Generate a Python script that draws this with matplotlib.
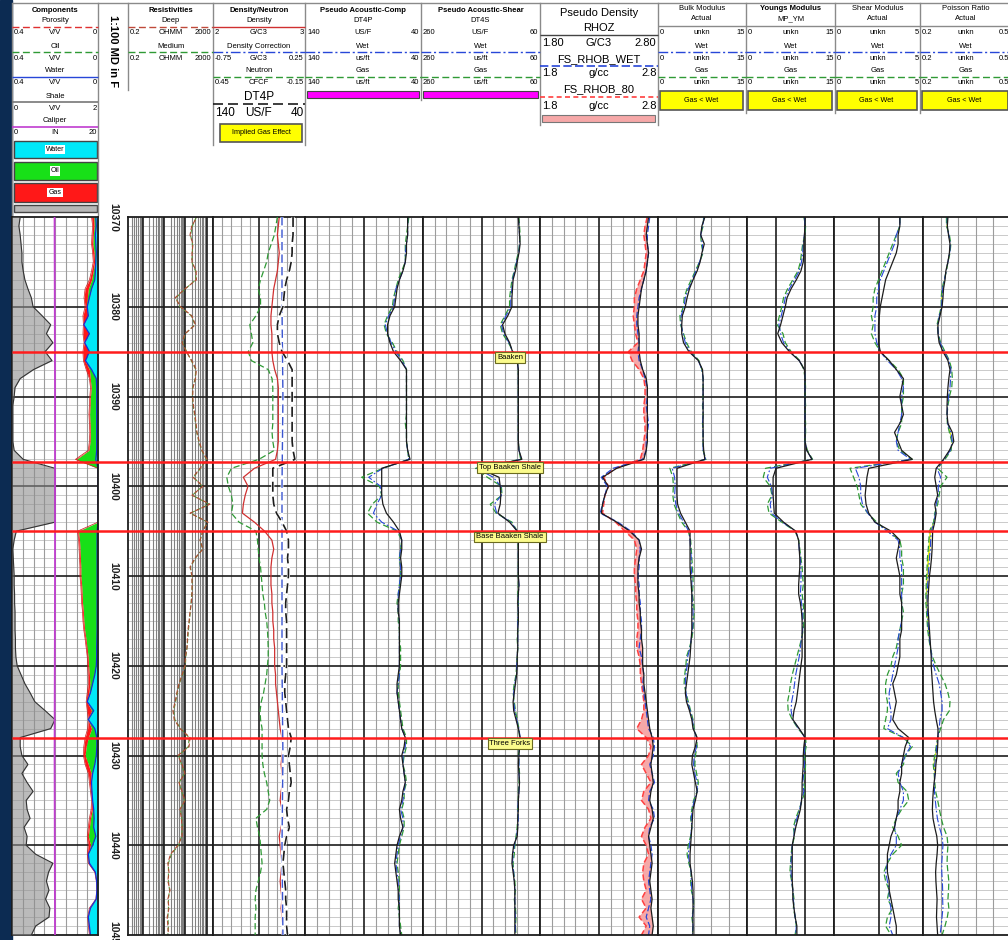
import numpy as np
import matplotlib
matplotlib.use("Agg")
import matplotlib.pyplot as plt
from matplotlib.patches import Rectangle

plt.rcParams["font.family"] = ["Liberation Sans", "DejaVu Sans"]

# ---------------- data (1 ft samples) ----------------
depth = np.arange(10370, 10451)
depth_labels = [10370, 10380, 10390, 10400, 10410, 10420, 10430, 10440, 10450]

tops_name = ["Baaken", "Top Baaken Shale", "Base Baaken Shale", "Three Forks"]
tops_depth = [10385.0, 10397.3, 10405.0, 10428.0]

# components (V/V)
shale = [0.19, 0.16, 0.19, 0.21, 0.23, 0.23, 0.26, 0.30, 0.37, 0.45,
         0.49, 0.70, 0.90, 0.80, 0.95, 0.77, 0.93, 0.50, 0.19, 0.07,
         0.05, 0.02, 0.02, 0.02, 0.02, 0.02, 0.05, 0.26, 1.00, 1.00,
         1.00, 1.00, 1.00, 1.00, 1.00, 0.10, 0.05, 0.02, 0.03, 0.04,
         0.05, 0.05, 0.06, 0.06, 0.07, 0.07, 0.07, 0.08, 0.08, 0.09,
         0.12, 0.21, 0.30, 0.42, 0.53, 0.77, 1.00, 0.90, 0.19, 0.19,
         0.23, 0.37, 0.23, 0.35, 0.49, 0.33, 0.35, 0.42, 0.28, 0.35,
         0.33, 0.55, 0.95, 0.85, 0.80, 0.86, 0.78, 0.88, 0.86, 0.55, 0.45]
phi = [.030, .025, .028, .030, .025, .022, .030, .040, .060, .065,
       .060, .070, .068, .070, .065, .070, .068, .055, .040, .035,
       .038, .040, .042, .040, .038, .040, .045, .105, .000, .000,
       .000, .000, .000, .000, .000, .095, .090, .088, .086, .084,
       .084, .080, .078, .076, .072, .070, .066, .060, .055, .050,
       .048, .046, .045, .050, .055, .050, .045, .048, .060, .066,
       .068, .060, .045, .040, .035, .030, .032, .040, .045, .050,
       .045, .050, .045, .015, .008, .006, .010, .040, .048, .045, .040]
bvw = [.010, .008, .012, .010, .008, .010, .012, .015, .030, .040,
       .050, .045, .066, .040, .062, .040, .058, .030, .008, .006,
       .006, .006, .006, .006, .006, .006, .006, .010, .000, .000,
       .000, .000, .000, .000, .000, .004, .004, .004, .004, .004,
       .004, .004, .004, .004, .004, .004, .004, .005, .006, .006,
       .008, .015, .025, .035, .050, .020, .045, .015, .005, .005,
       .008, .015, .025, .030, .028, .025, .020, .018, .020, .010,
       .025, .045, .040, .012, .006, .005, .008, .035, .045, .040, .035]
oil = [.020, .018, .022, .024, .018, .016, .022, .030, .045, .050,
       .055, .047, .067, .042, .063, .042, .060, .040, .036, .032,
       .035, .037, .039, .037, .035, .037, .042, .100, .000, .000,
       .000, .000, .000, .000, .000, .091, .086, .084, .082, .080,
       .080, .076, .074, .072, .068, .066, .062, .056, .051, .046,
       .044, .040, .038, .042, .052, .030, .046, .030, .045, .055,
       .060, .045, .032, .034, .030, .027, .026, .035, .040, .045,
       .035, .046, .042, .013, .007, .005, .009, .037, .046, .042, .037]
cal_depth = [10370, 10390, 10410, 10430, 10450]
caliper = [9.9, 10.0, 10.0, 9.9, 10.0]

# resistivity (ohmm)
res_deep = [353, 200, 166, 229, 206, 206, 320, 330, 96, 33,
            60, 200, 300, 96, 70, 110, 200, 330, 300, 230,
            220, 240, 280, 320, 353, 450, 607, 1044, 489, 229,
            676, 206, 1445, 166, 1160, 676, 489, 676, 284, 166,
            206, 206, 206, 190, 166, 150, 133, 125, 119, 100,
            96, 70, 50, 40, 33, 26, 30, 56, 166, 150,
            45, 70, 96, 50, 70, 96, 56, 65, 70, 70,
            45, 20, 15, 17, 15, 19, 15, 17, 14, 15, 16]
res_med = [330, 215, 175, 215, 215, 200, 300, 310, 100, 36,
           55, 190, 280, 100, 75, 115, 190, 310, 290, 220,
           215, 230, 270, 300, 340, 430, 580, 980, 520, 240,
           640, 215, 1300, 175, 1100, 650, 500, 640, 300, 175,
           200, 215, 200, 185, 170, 155, 140, 130, 120, 105,
           100, 75, 52, 42, 35, 28, 32, 60, 150, 140,
           48, 66, 90, 52, 66, 92, 58, 68, 72, 66,
           48, 22, 16, 16, 16, 18, 16, 16, 15, 16, 15]

# density / neutron
rhoz = [2.72, 2.71, 2.70, 2.71, 2.72, 2.71, 2.70, 2.68, 2.66, 2.65,
        2.64, 2.63, 2.63, 2.64, 2.64, 2.64, 2.65, 2.67, 2.70, 2.71,
        2.71, 2.71, 2.71, 2.71, 2.71, 2.71, 2.70, 2.68, 2.45, 2.33,
        2.38, 2.35, 2.33, 2.32, 2.45, 2.56, 2.64, 2.66, 2.64, 2.63,
        2.63, 2.63, 2.64, 2.64, 2.65, 2.65, 2.66, 2.66, 2.67, 2.67,
        2.67, 2.68, 2.68, 2.69, 2.70, 2.71, 2.72, 2.73, 2.75, 2.76,
        2.75, 2.74, 2.75, 2.76, 2.74, 2.73, 2.75, 2.76, 2.74, 2.72,
        2.73, 2.74, 2.75, 2.74, 2.73, 2.74, 2.75, 2.74, 2.75, 2.76, 2.75]
nphi = [0.03, 0.04, 0.05, 0.07, 0.09, 0.10, 0.12, 0.14, 0.155, 0.14,
        0.14, 0.17, 0.21, 0.20, 0.19, 0.22, 0.20, 0.09, 0.065, 0.06,
        0.06, 0.06, 0.06, 0.06, 0.065, 0.06, 0.05, 0.15, 0.33, 0.36,
        0.35, 0.33, 0.32, 0.33, 0.28, 0.17, 0.16, 0.155, 0.15, 0.14,
        0.135, 0.13, 0.125, 0.115, 0.11, 0.10, 0.095, 0.092, 0.09, 0.09,
        0.095, 0.10, 0.11, 0.12, 0.135, 0.143, 0.14, 0.13, 0.13, 0.13,
        0.13, 0.125, 0.115, 0.10, 0.09, 0.08, 0.10, 0.17, 0.16, 0.145,
        0.14, 0.135, 0.13, 0.14, 0.155, 0.17, 0.175, 0.17, 0.175, 0.175, 0.175]
drho_depth = [10370, 10380, 10390, 10400, 10410, 10420, 10430, 10440, 10450]
drho = [0.00, 0.00, 0.01, 0.00, 0.00, 0.00, 0.01, 0.00, 0.01]

# pseudo acoustic (us/ft)
dt4p = [53, 53, 53, 54, 54, 55, 57, 60, 62, 63,
        64, 68, 70, 70, 68, 65, 59, 54, 54, 54,
        54, 54, 54, 54, 54, 54, 53, 51, 75, 75,
        75, 75, 74, 71, 65, 60, 58, 58, 59, 58,
        58, 59, 60, 61, 61, 60, 60, 60, 60, 60,
        60, 61, 62, 62, 61, 60, 59, 58, 55, 56,
        58, 57, 56, 55, 57, 58, 60, 59, 57, 60,
        62, 63, 64, 63, 62, 61, 61, 60, 60, 60, 59]
dt4p_wet = [53, 53, 53, 54, 55, 55, 57, 60, 63, 64,
            65, 69, 72, 70, 67, 63, 58, 54, 54, 54,
            54, 54, 54, 54, 54, 54, 53, 52, 74, 86,
            76, 75, 79, 82, 75, 61, 58, 59, 60, 59,
            59, 60, 61, 61, 61, 60, 60, 60, 60, 60,
            60, 60, 61, 62, 61, 60, 59, 58, 55, 55,
            57, 57, 56, 55, 56, 57, 59, 57, 57, 59,
            61, 62, 63, 62, 61, 61, 60, 60, 60, 60, 59]
dt4p_gas = [52, 53, 54, 55, 55, 55, 58, 61, 63, 65,
            66, 70, 73, 71, 66, 62, 57, 54, 54, 54,
            54, 54, 54, 55, 54, 54, 53, 52, 74, 92,
            77, 75, 83, 87, 79, 62, 58, 59, 60, 59,
            59, 60, 61, 62, 61, 61, 60, 60, 59, 59,
            59, 60, 61, 61, 60, 59, 58, 57, 54, 54,
            56, 57, 55, 54, 56, 56, 58, 56, 56, 58,
            60, 61, 62, 61, 60, 60, 60, 61, 60, 59, 58]
dt4s = [97, 96, 95, 94, 96, 99, 102, 106, 107, 108,
        108, 115, 124, 120, 112, 107, 99, 97, 97, 97,
        97, 97, 97, 97, 97, 97, 96, 91, 165, 130,
        128, 127, 128, 132, 112, 99, 97, 97, 97, 97,
        97, 96, 97, 98, 97, 97, 98, 98, 98, 99,
        99, 100, 102, 104, 106, 105, 101, 97, 94, 95,
        96, 97, 96, 95, 96, 97, 97, 98, 98, 99,
        105, 107, 108, 106, 104, 103, 103, 103, 103, 103, 103]
dt4s_wet = [97, 96, 95, 95, 96, 100, 103, 107, 108, 110,
            110, 118, 126, 122, 113, 107, 99, 97, 97, 97,
            97, 97, 97, 97, 97, 97, 96, 92, 168, 140,
            127, 126, 138, 134, 110, 99, 97, 97, 97, 97,
            97, 96, 97, 97, 97, 98, 98, 98, 98, 99,
            100, 100, 103, 105, 105, 103, 100, 96, 94, 95,
            96, 96, 96, 95, 96, 97, 98, 97, 98, 100,
            104, 106, 107, 105, 104, 103, 103, 103, 102, 102, 102]
dt4s_gas = [96, 95, 94, 95, 97, 101, 104, 108, 110, 112,
            112, 120, 128, 124, 114, 106, 99, 97, 97, 97,
            97, 97, 97, 97, 97, 97, 96, 93, 170, 150,
            126, 125, 145, 135, 108, 99, 98, 97, 97, 97,
            97, 97, 98, 97, 97, 98, 98, 99, 98, 99,
            100, 101, 104, 106, 104, 102, 99, 96, 95, 95,
            97, 96, 95, 96, 97, 97, 98, 98, 99, 101,
            103, 104, 106, 105, 103, 102, 104, 102, 101, 102, 101]

# pseudo density (g/cc)
rhob_wet = [2.73, 2.72, 2.71, 2.71, 2.72, 2.71, 2.70, 2.68, 2.66, 2.64,
            2.63, 2.62, 2.62, 2.63, 2.64, 2.63, 2.64, 2.67, 2.69, 2.71,
            2.71, 2.70, 2.71, 2.72, 2.71, 2.70, 2.70, 2.67, 2.42, 2.32,
            2.37, 2.35, 2.33, 2.31, 2.46, 2.57, 2.64, 2.65, 2.64, 2.64,
            2.63, 2.64, 2.64, 2.65, 2.65, 2.66, 2.66, 2.65, 2.64, 2.66,
            2.67, 2.68, 2.67, 2.68, 2.69, 2.70, 2.71, 2.72, 2.76, 2.77,
            2.76, 2.73, 2.75, 2.77, 2.73, 2.72, 2.76, 2.77, 2.73, 2.72,
            2.74, 2.75, 2.74, 2.73, 2.72, 2.73, 2.74, 2.72, 2.70, 2.73, 2.72]
rhob_80 = [2.71, 2.69, 2.68, 2.69, 2.70, 2.69, 2.68, 2.65, 2.62, 2.60,
           2.60, 2.59, 2.60, 2.61, 2.63, 2.55, 2.58, 2.64, 2.68, 2.69,
           2.69, 2.68, 2.68, 2.69, 2.69, 2.68, 2.67, 2.65, 2.44, 2.34,
           2.38, 2.35, 2.34, 2.33, 2.44, 2.52, 2.60, 2.62, 2.61, 2.60,
           2.60, 2.61, 2.61, 2.62, 2.62, 2.63, 2.63, 2.62, 2.62, 2.64,
           2.65, 2.65, 2.66, 2.67, 2.68, 2.68, 2.66, 2.62, 2.70, 2.74,
           2.72, 2.66, 2.70, 2.74, 2.68, 2.66, 2.72, 2.74, 2.69, 2.66,
           2.70, 2.72, 2.68, 2.67, 2.68, 2.70, 2.66, 2.70, 2.64, 2.70, 2.66]

# moduli
bulk_act = [7.9, 7.4, 7.2, 7.8, 7.4, 7.1, 6.6, 5.9, 5.3, 4.9,
            4.6, 4.1, 4.0, 4.0, 4.3, 5.2, 6.8, 7.5, 7.6, 7.6,
            7.6, 7.6, 7.6, 7.6, 7.6, 7.6, 7.7, 7.9, 3.2, 3.2,
            3.2, 3.2, 3.3, 3.8, 4.6, 5.4, 5.4, 5.4, 5.4, 5.4,
            5.5, 5.6, 5.7, 5.7, 5.7, 5.7, 5.7, 5.6, 5.5, 5.4,
            5.2, 5.0, 4.8, 4.6, 4.8, 5.3, 5.7, 5.9, 6.6, 6.3,
            5.8, 5.7, 6.0, 6.3, 6.6, 6.3, 5.9, 5.8, 5.7, 5.6,
            5.5, 5.4, 5.4, 5.6, 5.8, 5.9, 5.9, 5.9, 5.9, 5.9, 5.9]
bulk_wet = [7.8, 7.5, 7.2, 7.5, 7.5, 7.0, 6.4, 5.8, 5.1, 4.6,
            4.4, 3.9, 3.9, 4.2, 4.6, 5.4, 6.8, 7.4, 7.6, 7.6,
            7.6, 7.6, 7.6, 7.5, 7.6, 7.6, 7.6, 8.0, 2.4, 2.8,
            2.9, 2.8, 3.0, 3.5, 4.3, 5.2, 5.4, 5.5, 5.6, 5.6,
            5.7, 5.7, 5.7, 5.8, 5.9, 5.9, 5.8, 5.6, 5.4, 5.0,
            4.9, 4.7, 4.6, 4.7, 5.0, 5.4, 5.8, 6.0, 6.5, 6.5,
            6.1, 6.0, 6.2, 6.6, 6.6, 6.1, 5.8, 5.6, 5.7, 5.5,
            5.3, 5.1, 5.3, 5.6, 5.6, 5.7, 5.9, 6.0, 5.8, 5.9, 5.8]
bulk_gas = [7.7, 7.6, 7.2, 7.3, 7.6, 7.0, 6.3, 5.6, 4.9, 4.4,
            4.3, 3.7, 3.8, 4.3, 4.8, 5.6, 6.9, 7.4, 7.6, 7.6,
            7.6, 7.5, 7.6, 7.5, 7.6, 7.6, 7.6, 8.1, 2.0, 2.5,
            2.6, 2.5, 2.7, 3.3, 4.0, 5.1, 5.5, 5.6, 5.7, 5.8,
            5.9, 5.9, 5.8, 6.0, 6.1, 6.0, 5.9, 5.7, 5.3, 4.8,
            4.7, 4.5, 4.4, 4.7, 5.1, 5.5, 5.9, 6.1, 6.5, 6.6,
            6.3, 6.2, 6.5, 6.8, 6.6, 6.0, 5.7, 5.5, 5.7, 5.5,
            5.1, 4.9, 5.2, 5.6, 5.5, 5.6, 6.0, 6.0, 5.7, 5.9, 5.8]
young_act = [10.0, 10.0, 9.9, 9.8, 9.8, 9.7, 9.3, 8.5, 7.6, 6.9,
             6.6, 6.2, 5.8, 5.3, 6.0, 7.3, 9.0, 9.9, 10.0, 10.0,
             10.0, 10.0, 10.0, 10.0, 10.0, 10.0, 10.3, 11.2, 5.0, 4.5,
             4.5, 4.5, 4.6, 4.7, 6.3, 8.4, 8.9, 9.0, 9.1, 9.1,
             9.0, 8.9, 8.9, 9.2, 9.4, 9.5, 9.5, 9.5, 9.5, 9.5,
             9.3, 9.1, 8.9, 8.7, 8.5, 8.1, 7.9, 9.0, 10.0, 9.8,
             9.7, 9.7, 9.6, 9.5, 9.5, 9.4, 9.2, 8.8, 8.4, 8.1,
             7.8, 7.8, 7.8, 7.8, 7.8, 7.9, 7.9, 8.1, 8.3, 8.6, 8.6]
young_wet = [9.9, 10.0, 9.9, 9.7, 9.6, 9.4, 9.0, 8.2, 7.3, 6.6,
             6.3, 5.9, 5.5, 5.8, 6.3, 7.4, 9.0, 9.9, 10.0, 10.0,
             10.0, 10.0, 10.0, 10.0, 10.0, 10.0, 10.3, 11.2, 4.0, 3.5,
             4.2, 4.4, 4.0, 4.2, 6.1, 8.4, 8.9, 9.0, 9.2, 9.3,
             9.3, 9.3, 9.2, 9.4, 9.6, 9.6, 9.6, 9.4, 9.2, 9.0,
             8.7, 8.4, 8.2, 8.0, 7.7, 7.6, 7.9, 8.9, 10.0, 10.0,
             9.8, 9.9, 9.8, 9.6, 9.8, 9.4, 9.1, 8.6, 8.2, 8.1,
             7.8, 7.7, 7.6, 7.6, 7.7, 7.9, 8.0, 8.1, 8.3, 8.5, 8.4]
young_gas = [9.8, 10.1, 10.0, 9.6, 9.4, 9.2, 8.8, 7.9, 7.0, 6.3,
             6.0, 5.6, 5.2, 6.2, 6.6, 7.6, 9.1, 9.8, 10.0, 10.1,
             10.0, 10.1, 10.0, 10.1, 10.1, 10.0, 10.4, 11.3, 3.2, 2.8,
             4.0, 4.3, 3.5, 3.8, 6.0, 8.3, 8.9, 9.1, 9.3, 9.5,
             9.6, 9.7, 9.5, 9.7, 9.8, 9.8, 9.7, 9.4, 9.0, 8.6,
             8.2, 7.8, 7.5, 7.3, 7.0, 7.1, 7.8, 8.8, 10.1, 10.2,
             9.9, 10.1, 10.0, 9.8, 10.0, 9.5, 9.0, 8.4, 8.0, 8.2,
             7.8, 7.6, 7.5, 7.4, 7.7, 7.9, 8.1, 8.0, 8.3, 8.5, 8.3]
shear_act = [3.7, 3.7, 3.6, 3.6, 3.5, 3.3, 3.1, 2.9, 2.8, 2.7,
             2.6, 2.55, 2.5, 2.5, 2.5, 2.6, 3.1, 3.5, 3.9, 3.8,
             3.7, 3.8, 3.9, 3.7, 3.4, 3.6, 3.8, 4.4, 1.95, 1.85,
             1.8, 1.75, 1.8, 1.95, 2.3, 3.2, 3.7, 3.6, 3.5, 3.6,
             3.7, 3.7, 3.7, 3.8, 3.8, 3.8, 3.8, 3.7, 3.7, 3.7,
             3.6, 3.5, 3.3, 3.4, 3.5, 3.4, 3.3, 3.6, 4.2, 4.0,
             3.9, 3.8, 3.8, 3.7, 3.7, 3.6, 3.6, 3.5, 3.4, 3.2,
             3.1, 3.0, 3.0, 3.0, 3.1, 3.1, 3.2, 3.3, 3.4, 3.5, 3.5]
shear_wet = [3.7, 3.7, 3.5, 3.4, 3.2, 3.0, 2.8, 2.6, 2.5, 2.4,
             2.4, 2.3, 2.3, 2.3, 2.4, 2.6, 3.0, 3.5, 3.8, 3.9,
             3.8, 3.8, 3.8, 3.7, 3.6, 3.5, 3.6, 4.3, 1.2, 1.4,
             1.5, 1.5, 1.6, 1.9, 2.3, 3.0, 3.6, 3.7, 3.7, 3.8,
             3.8, 3.8, 3.8, 3.8, 3.8, 3.8, 3.7, 3.6, 3.6, 3.5,
             3.4, 3.3, 3.2, 3.1, 3.1, 3.2, 3.2, 3.0, 3.9, 4.3,
             4.0, 3.8, 3.6, 3.7, 3.9, 3.9, 3.7, 3.5, 3.4, 3.5,
             3.5, 3.2, 3.0, 2.9, 3.0, 3.1, 3.1, 3.2, 3.2, 3.1, 3.3]
shear_gas = [3.7, 3.7, 3.5, 3.3, 3.1, 2.9, 2.7, 2.5, 2.3, 2.2,
             2.2, 2.1, 2.2, 2.1, 2.3, 2.6, 3.1, 3.6, 3.9, 3.9,
             3.9, 3.8, 3.8, 3.8, 3.6, 3.5, 3.7, 4.4, 0.9, 1.1,
             1.3, 1.4, 1.5, 1.9, 2.4, 3.0, 3.7, 3.8, 3.8, 3.9,
             3.9, 3.9, 3.8, 3.8, 3.9, 3.8, 3.7, 3.6, 3.5, 3.3,
             3.2, 3.0, 2.9, 2.9, 3.0, 3.0, 2.9, 2.8, 3.9, 4.4,
             4.0, 3.9, 3.5, 3.6, 4.1, 4.2, 3.8, 3.5, 3.3, 3.6,
             3.8, 3.3, 3.0, 2.8, 2.9, 3.1, 3.0, 3.3, 3.0, 2.9, 3.2]
pr_act = [0.285, 0.283, 0.287, 0.292, 0.290, 0.285, 0.278, 0.275, 0.270, 0.268,
          0.265, 0.258, 0.251, 0.251, 0.255, 0.268, 0.285, 0.292, 0.288, 0.285,
          0.283, 0.282, 0.282, 0.285, 0.300, 0.305, 0.290, 0.270, 0.245, 0.240,
          0.245, 0.250, 0.240, 0.245, 0.240, 0.233, 0.232, 0.231, 0.229, 0.226,
          0.222, 0.220, 0.218, 0.217, 0.218, 0.220, 0.222, 0.224, 0.226, 0.228,
          0.228, 0.230, 0.232, 0.234, 0.236, 0.240, 0.245, 0.251, 0.251, 0.250,
          0.248, 0.244, 0.242, 0.238, 0.235, 0.233, 0.232, 0.234, 0.240, 0.247,
          0.250, 0.248, 0.245, 0.243, 0.244, 0.246, 0.248, 0.247, 0.246, 0.248, 0.250]
pr_wet = [0.283, 0.282, 0.288, 0.293, 0.291, 0.285, 0.279, 0.273, 0.267, 0.265,
          0.263, 0.256, 0.250, 0.252, 0.258, 0.272, 0.288, 0.295, 0.294, 0.292,
          0.287, 0.284, 0.282, 0.284, 0.295, 0.300, 0.293, 0.272, 0.248, 0.260,
          0.252, 0.252, 0.245, 0.242, 0.238, 0.228, 0.226, 0.225, 0.222, 0.220,
          0.217, 0.216, 0.214, 0.214, 0.215, 0.217, 0.219, 0.222, 0.226, 0.230,
          0.236, 0.245, 0.255, 0.260, 0.265, 0.265, 0.258, 0.255, 0.250, 0.247,
          0.244, 0.240, 0.240, 0.239, 0.239, 0.242, 0.245, 0.249, 0.256, 0.265,
          0.268, 0.266, 0.264, 0.264, 0.266, 0.267, 0.267, 0.268, 0.265, 0.262, 0.258]
pr_gas = [0.280, 0.280, 0.290, 0.295, 0.292, 0.285, 0.280, 0.272, 0.265, 0.262,
          0.262, 0.255, 0.248, 0.252, 0.260, 0.275, 0.290, 0.298, 0.300, 0.298,
          0.290, 0.285, 0.282, 0.283, 0.290, 0.298, 0.296, 0.275, 0.250, 0.282,
          0.260, 0.255, 0.250, 0.240, 0.236, 0.222, 0.220, 0.218, 0.215, 0.214,
          0.212, 0.211, 0.210, 0.210, 0.212, 0.214, 0.216, 0.220, 0.225, 0.232,
          0.245, 0.260, 0.275, 0.285, 0.292, 0.290, 0.270, 0.260, 0.250, 0.245,
          0.240, 0.235, 0.238, 0.240, 0.243, 0.250, 0.256, 0.262, 0.270, 0.282,
          0.285, 0.283, 0.282, 0.285, 0.288, 0.287, 0.285, 0.288, 0.283, 0.275, 0.265]

# ---------------- layout ----------------
W, H = 1008, 940
TOP, BOT = 217, 935
D0, D1 = 10370, 10450

BLK, BLU, GRN, RED = "#1c1c1c", "#2747d8", "#2f9a35", "#e02020"
WET = (0, (7, 2, 1.5, 2))
GAS = (0, (5, 2.5))

fig = plt.figure(figsize=(W / 100, H / 100), dpi=100)
hdr = fig.add_axes([0, 0, 1, 1])
hdr.set_xlim(0, W)
hdr.set_ylim(H, 0)
hdr.axis("off")
hdr.add_patch(Rectangle((0, 0), 12, H, color="#0c2b52", zorder=0))

FT = [d for d in range(D0 + 1, D1) if d % 10]
TENS = list(range(D0 + 10, D1, 10))


def track(x0, x1, xlim, thin=(), heavy=(), log=False, thin_color="#9c9c9c"):
    ax = fig.add_axes([x0 / W, 1 - BOT / H, (x1 - x0) / W, (BOT - TOP) / H])
    if log:
        ax.set_xscale("log")
    ax.set_xlim(*xlim)
    ax.set_ylim(D1, D0)
    ax.tick_params(which="both", bottom=False, left=False,
                   labelbottom=False, labelleft=False)
    yt = ax.get_yaxis_transform()
    xt = ax.get_xaxis_transform() if log else ax.transAxes
    ax.hlines(FT, 0, 1, transform=yt, color="#c2c2c2", lw=0.6, zorder=0)
    if thin:
        ax.vlines(thin, 0, 1, transform=xt, color=thin_color, lw=0.8, zorder=0)
    if heavy:
        ax.vlines(heavy, 0, 1, transform=xt, color=BLK, lw=1.2, zorder=0.5)
    ax.hlines(TENS, 0, 1, transform=yt, color=BLK, lw=1.2, zorder=0.5)
    for s in ax.spines.values():
        s.set_linewidth(1.3)
        s.set_color(BLK)
    return ax


def layer(base, xlim):
    ax = fig.add_axes(base.get_position().bounds, facecolor="none")
    ax.set_xlim(*xlim)
    ax.set_ylim(D1, D0)
    ax.axis("off")
    return ax


tenths = [i / 10 for i in range(1, 10) if i != 5]
fifths = [i / 5 for i in range(1, 5)]
eighths = [i / 8 for i in range(1, 8)]

# components
ax_c = track(12, 98, (0.4, 0), thin=eighths)
ax_c.fill_betweenx(depth, 0, bvw, color="#00e8f8", lw=0)
ax_c.fill_betweenx(depth, bvw, oil, color="#18e018", lw=0)
ax_c.fill_betweenx(depth, oil, phi, color="#ff1818", lw=0)
ax_c.plot(phi, depth, color="#c81c1c", lw=0.5)
ax_c.plot(bvw, depth, color="#1030e0", lw=0.9)
sh = layer(ax_c, (0, 2))
sh.fill_betweenx(depth, 0, shale, color="#8e8e8e", alpha=0.6, lw=0)
sh.plot(shale, depth, color="#333333", lw=0.8)
cl = layer(ax_c, (0, 20))
cl.plot(caliper, cal_depth, color="#c03cd0", lw=1.3)

# resistivity (log grid)
dec_minor = [k * 10.0 ** e for e in range(-1, 4) for k in range(2, 10)]
dec_minor = [v for v in dec_minor if 0.2 < v < 2000]
ax_r = track(128, 213, (0.2, 2000), thin=dec_minor, heavy=[1, 10, 100, 1000],
             log=True, thin_color="#808080")
ax_r.plot(res_med, depth, color="#55923a", lw=0.8, ls=(0, (4, 2)))
ax_r.plot(res_deep, depth, color="#b04a32", lw=0.8, ls=(3, (4, 2)))

# density / neutron
ax_d = track(213, 305, (2, 3), thin=tenths, heavy=[0.5])
ax_d.plot(rhoz, depth, color="#d03030", lw=0.9)
nl = layer(ax_d, (0.45, -0.15))
nl.plot(nphi, depth, color=GRN, lw=0.9, ls=GAS)
dl = layer(ax_d, (-0.75, 0.25))
dl.plot(drho, drho_depth, color="white", lw=2.0)
dl.plot(drho, drho_depth, color="#3a55d0", lw=1.0, ls=(0, (6, 3)))
tl = layer(ax_d, (140, 40))
tl.plot(dt4p, depth, color="white", lw=2.2)
tl.plot(dt4p, depth, color=BLK, lw=1.2, ls=(0, (6, 3)))

# pseudo acoustic
ax_p = track(305, 423, (140, 40), thin=tenths, heavy=[0.5])
ax_s = track(423, 540, (260, 60), thin=tenths, heavy=[0.5])
for ax, act, wet, gas in [(ax_p, dt4p, dt4p_wet, dt4p_gas), (ax_s, dt4s, dt4s_wet, dt4s_gas)]:
    ax.plot(gas, depth, color=GRN, lw=0.9, ls=GAS)
    ax.plot(wet, depth, color=BLU, lw=0.8, ls=WET)
    ax.plot(act, depth, color=BLK, lw=0.9)

# pseudo density
ax_rho = track(540, 658, (1.8, 2.8), thin=tenths, heavy=[0.5])
r80, rz = np.array(rhob_80), np.array(rhoz)
ax_rho.fill_betweenx(depth, r80, rz, where=r80 < rz, interpolate=True, color="#f6a8a8", lw=0)
ax_rho.plot(rhob_80, depth, color="#ff4040", lw=1.1, ls=(0, (4, 2)))
ax_rho.plot(rhob_wet, depth, color=BLU, lw=0.9, ls=(0, (5, 2)))
ax_rho.plot(rhoz, depth, color=BLK, lw=0.9)

# moduli
ax_k = track(658, 747, (0, 15), thin=fifths)
ax_y = track(747, 834, (0, 15), heavy=[1 / 3, 2 / 3])
ax_g = track(834, 923, (0, 5), heavy=[0.5])
ax_n = track(923, 1011, (0.2, 0.5), thin=fifths)
pg, pw = np.array(pr_gas), np.array(pr_wet)
ax_n.fill_betweenx(depth, pg, pw, where=pg < pw, interpolate=True, color="#e6ef1a", lw=0)
for ax, act, wet, gas in [(ax_k, bulk_act, bulk_wet, bulk_gas),
                          (ax_y, young_act, young_wet, young_gas),
                          (ax_g, shear_act, shear_wet, shear_gas),
                          (ax_n, pr_act, pr_wet, pr_gas)]:
    ax.plot(gas, depth, color=GRN, lw=0.9, ls=GAS)
    ax.plot(wet, depth, color=BLU, lw=0.8, ls=WET)
    ax.plot(act, depth, color=BLK, lw=0.9)

# tops + depth labels
ov = fig.add_axes([0, 1 - BOT / H, 1, (BOT - TOP) / H], facecolor="none")
ov.set_xlim(0, W)
ov.set_ylim(D1, D0)
ov.axis("off")
ov.hlines(tops_depth, 12, W, color="#ff1c1c", lw=1.8)
for name, d in zip(tops_name, tops_depth):
    ov.text(510, d + 0.65, name, fontsize=5.5, ha="center", va="center",
            bbox=dict(boxstyle="square,pad=0.25", fc="#fbfb8c", ec="#6b6b20", lw=0.8))
for d in depth_labels:
    ov.text(113, d, str(d), rotation=-90, fontsize=7.5, fontweight="bold",
            color="#1e1e1e", ha="center", va="center", clip_on=False)


# ---------------- header ----------------
def txt(x, y, s, fs=5.5, weight="normal", ha="center", **kw):
    hdr.text(x, y, s, fontsize=fs, fontweight=weight, ha=ha, va="center", **kw)


def scale(x0, x1, y, lo, unit, hi, fs=5.5):
    txt(x0 + 2, y, lo, fs, ha="left")
    txt((x0 + x1) / 2, y, unit, fs)
    txt(x1 - 1.5, y, hi, fs, ha="right")


def hl(x0, x1, y, color, ls="-", lw=1.0):
    hdr.plot([x0, x1], [y, y], color=color, ls=ls, lw=lw, solid_capstyle="butt")


hl(12, W, 3, "#8a8a8a")
for x, y1 in [(12, 215), (98, 215), (128, 90), (213, 145), (305, 145), (421, 100),
              (540, 125), (658, 125), (746, 113), (835, 113), (920, 113)]:
    hdr.plot([x, x], [3, y1], color="#8a8a8a", lw=1.0)

# components header
txt(55, 11, "Components", weight="bold")
txt(55, 21, "Porosity")
hl(12, 98, 27, "#e03030", GAS)
scale(12, 98, 33, "0.4", "V/V", "0")
txt(55, 46, "Oil")
hl(12, 98, 52, GRN, GAS)
scale(12, 98, 58, "0.4", "V/V", "0")
txt(55, 71, "Water")
hl(12, 98, 77, BLU)
scale(12, 98, 83, "0.4", "V/V", "0")
txt(55, 96, "Shale")
hl(12, 98, 102, "#777777", lw=1.2)
scale(12, 98, 108, "0", "V/V", "2")
txt(55, 121, "Caliper")
hl(12, 98, 127, "#c03cd0", lw=1.2)
scale(12, 98, 133, "0", "IN", "20")
for y0, y1, c, lab in [(141, 158, "#00e8f8", "Water"), (162, 180, "#18e018", "Oil"),
                       (183, 202, "#ff1818", "Gas"), (205, 212, "#b8b8b8", "")]:
    hdr.add_patch(Rectangle((14, y0), 83, y1 - y0, fc=c, ec="#444444", lw=1.0))
    if lab:
        txt(55, (y0 + y1) / 2, lab, 5,
            bbox=dict(boxstyle="square,pad=0.15", fc="white", ec="none"))

txt(113, 51, "1:100 MD in F", 8, "bold", rotation=-90)

# resistivity header
txt(170.5, 11, "Resistivities", weight="bold")
txt(170.5, 21, "Deep")
hl(128, 213, 27, "#c04a3a", GAS)
scale(128, 213, 33, "0.2", "OHMM", "2000")
txt(170.5, 46, "Medium")
hl(128, 213, 52, GRN, GAS)
scale(128, 213, 58, "0.2", "OHMM", "2000")

# density / neutron header
txt(259, 11, "Density/Neutron", weight="bold")
txt(259, 21, "Density")
hl(213, 305, 27, "#d03030")
scale(213, 305, 33, "2", "G/C3", "3")
txt(259, 46, "Density Correction")
hl(213, 305, 52, BLU, WET)
scale(213, 305, 58, "-0.75", "G/C3", "0.25")
txt(259, 71, "Neutron")
hl(213, 305, 77, GRN, GAS)
scale(213, 305, 83, "0.45", "CFCF", "-0.15")
txt(259, 97, "DT4P", 8.5)
hl(213, 305, 104, BLK, (0, (6, 3)), 1.2)
scale(213, 305, 113, "140", "US/F", "40", 8.5)
hdr.add_patch(Rectangle((220, 124), 82, 18, fc="#ffff00", ec="#555555", lw=1.2))
txt(261, 133, "Implied Gas Effect", 5.2)

# acoustic headers
for x0, x1, title, curve, lo, hi in [(305, 421, "Pseudo Acoustic-Comp", "DT4P", "140", "40"),
                                     (421, 540, "Pseudo Acoustic-Shear", "DT4S", "260", "60")]:
    cx = (x0 + x1) / 2
    txt(cx, 11, title, weight="bold")
    txt(cx, 21, curve)
    scale(x0, x1, 33, lo, "US/F", hi)
    txt(cx, 46, "Wet")
    hl(x0, x1, 52, BLU, WET)
    scale(x0, x1, 58, lo, "us/ft", hi)
    txt(cx, 71, "Gas")
    hl(x0, x1, 77, GRN, GAS)
    scale(x0, x1, 83, lo, "us/ft", hi)
    hdr.add_patch(Rectangle((x0 + 2, 91), x1 - x0 - 4, 7, fc="#ff00ff", ec="#444444", lw=0.8))

# pseudo density header
txt(599, 13, "Pseudo Density", 8)
txt(599, 28, "RHOZ", 8)
hl(540, 658, 35, "#444444")
scale(540, 658, 43, "1.80", "G/C3", "2.80", 8)
txt(599, 59, "FS_RHOB_WET", 8)
hl(540, 658, 66, BLU, (0, (5, 2)), 1.2)
scale(540, 658, 73, "1.8", "g/cc", "2.8", 8)
txt(599, 89, "FS_RHOB_80", 8)
hl(540, 658, 97, "#ff4040", (0, (3, 2)), 1.2)
scale(540, 658, 106, "1.8", "g/cc", "2.8", 8)
hdr.add_patch(Rectangle((542, 115), 113, 7, fc="#f6a8a8", ec="#777777", lw=0.8))

# moduli headers
for x0, x1, title, bold, sub, lo, hi in [(658, 746, "Bulk Modulus", False, "Actual", "0", "15"),
                                         (746, 835, "Youngs Modulus", True, "MP_YM", "0", "15"),
                                         (835, 920, "Shear Modulus", False, "Actual", "0", "5"),
                                         (920, 1011, "Poisson Ratio", False, "Actual", "0.2", "0.5")]:
    cx = (x0 + x1) / 2
    txt(cx, 9, title, weight="bold" if bold else "normal")
    txt(cx, 19, sub)
    hl(x0, x1, 26, "#8a8a8a")
    scale(x0, x1, 33, lo, "unkn", hi)
    txt(cx, 46, "Wet")
    hl(x0, x1, 52, BLU, WET)
    scale(x0, x1, 58, lo, "unkn", hi)
    txt(cx, 71, "Gas")
    hl(x0, x1, 77, GRN, GAS)
    scale(x0, x1, 83, lo, "unkn", hi)
    hdr.add_patch(Rectangle((x0 + 2, 91), x1 - x0 - 5, 19, fc="#ffff00", ec="#555555", lw=1.2))
    txt(cx - 1, 100.5, "Gas < Wet", 5.2)

fig.savefig("out.png", dpi=100)
